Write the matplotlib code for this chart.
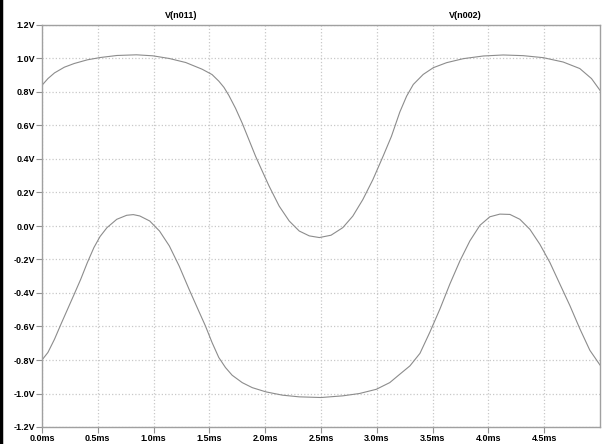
import matplotlib
matplotlib.use('Agg')
import matplotlib.pyplot as plt
from matplotlib.lines import Line2D

# time in ms, voltage in V
tUpper = [0.0, 0.053, 0.112, 0.2, 0.288, 0.406, 0.524, 0.671, 0.847, 0.994, 1.141, 1.288,
          1.435, 1.524, 1.584, 1.63, 1.674, 1.734, 1.794, 1.854, 1.914, 1.974, 2.035, 2.125,
          2.215, 2.305, 2.395, 2.485, 2.59, 2.695, 2.785, 2.875, 2.965, 3.056, 3.131, 3.206,
          3.267, 3.327, 3.416, 3.506, 3.625, 3.775, 3.954, 4.133, 4.312, 4.491, 4.67, 4.819,
          4.924, 5.0]
vUpper = [0.84, 0.88, 0.914, 0.948, 0.97, 0.992, 1.006, 1.018, 1.022, 1.016, 1.0, 0.976,
          0.936, 0.904, 0.865, 0.828, 0.78, 0.703, 0.614, 0.515, 0.416, 0.327, 0.238, 0.119,
          0.03, -0.03, -0.059, -0.069, -0.055, -0.01, 0.059, 0.158, 0.277, 0.416, 0.535, 0.68,
          0.775, 0.845, 0.905, 0.945, 0.975, 0.999, 1.015, 1.021, 1.017, 1.005, 0.979, 0.94,
          0.88, 0.81]

tLower = [0.0, 0.053, 0.112, 0.17, 0.229, 0.288, 0.347, 0.406, 0.465, 0.52, 0.582, 0.67,
          0.759, 0.818, 0.876, 0.965, 1.053, 1.141, 1.229, 1.318, 1.406, 1.464, 1.524, 1.584,
          1.644, 1.704, 1.794, 1.884, 2.005, 2.155, 2.305, 2.5, 2.695, 2.845, 2.995, 3.116,
          3.206, 3.297, 3.387, 3.476, 3.566, 3.655, 3.745, 3.834, 3.924, 4.013, 4.103, 4.193,
          4.282, 4.372, 4.461, 4.551, 4.64, 4.73, 4.819, 4.909, 5.0]
vLower = [-0.80, -0.755, -0.676, -0.586, -0.497, -0.408, -0.318, -0.219, -0.129, -0.063,
          -0.01, 0.04, 0.064, 0.068, 0.06, 0.03, -0.03, -0.119, -0.239, -0.378, -0.51, -0.596,
          -0.696, -0.785, -0.845, -0.891, -0.935, -0.965, -0.99, -1.01, -1.02, -1.024, -1.014,
          -1.0, -0.975, -0.935, -0.885, -0.835, -0.76, -0.633, -0.495, -0.346, -0.208, -0.089,
          0.004, 0.055, 0.071, 0.069, 0.04, -0.02, -0.109, -0.218, -0.346, -0.475, -0.613,
          -0.742, -0.83]

traceNames = ['V(n011)', 'V(n002)']
xTicks = [0.0, 0.5, 1.0, 1.5, 2.0, 2.5, 3.0, 3.5, 4.0, 4.5]
yTicks = [-1.2, -1.0, -0.8, -0.6, -0.4, -0.2, 0.0, 0.2, 0.4, 0.6, 0.8, 1.0, 1.2]

plt.rcParams['font.family'] = ['Liberation Sans', 'DejaVu Sans']
plt.rcParams['font.weight'] = 'bold'

fig = plt.figure(figsize=(6.05, 4.44), dpi=100)
ax = fig.add_axes([42/605, 1-427/444, 558/605, 402/444])

traceColor = '#8c8c8c'
ax.plot(tUpper, vUpper, color=traceColor, lw=0.8)
ax.plot(tLower, vLower, color=traceColor, lw=0.8)

ax.set_xlim(0, 5.0)
ax.set_ylim(-1.2, 1.2)
ax.set_xticks(xTicks)
ax.set_xticklabels(['%.1fms' % x for x in xTicks])
ax.set_yticks(yTicks)
ax.set_yticklabels(['%.1fV' % y for y in yTicks])
ax.tick_params(labelsize=6.5, length=4, width=0.8, color='#909090', pad=1)
ax.grid(True, color='#c8c8c8', linestyle=':', linewidth=0.9)
for s in ax.spines.values():
    s.set_color('#a0a0a0')
    s.set_linewidth(1.0)

# trace names above the plot
ax.text(0.25, 1.012, traceNames[0], transform=ax.transAxes, ha='center', va='bottom', fontsize=6.5)
ax.text(0.758, 1.012, traceNames[1], transform=ax.transAxes, ha='center', va='bottom', fontsize=6.5)

# dark window edge on the left
fig.add_artist(Line2D([0.002, 0.002], [0, 1], transform=fig.transFigure, color='black', lw=2.5))

fig.savefig('out.png', dpi=100)
